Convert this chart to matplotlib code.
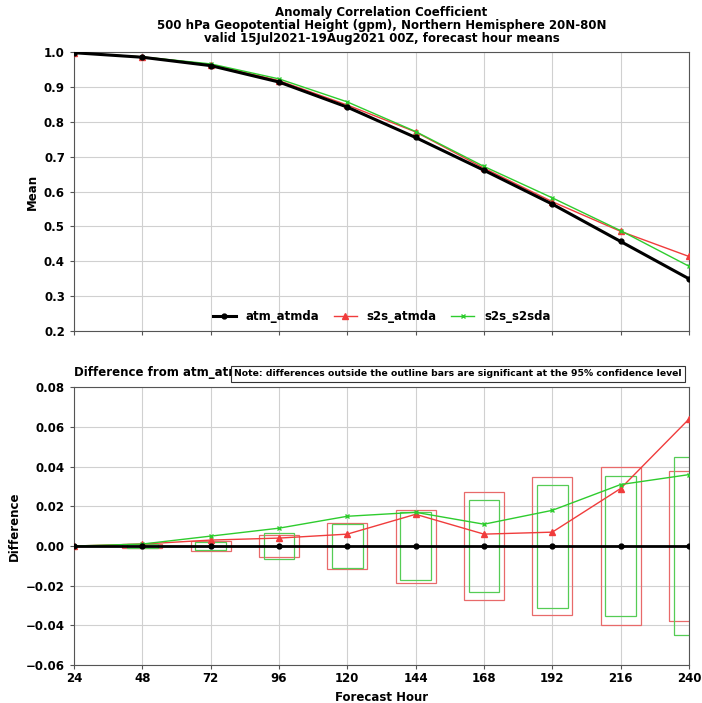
#!/usr/bin/env python3
"""Anomaly correlation coefficient: forecast hour means and differences from atm_atmda."""

import matplotlib

matplotlib.use("Agg")
import matplotlib.pyplot as plt
from matplotlib.patches import Rectangle
import numpy as np

# Forecast hours
hours = [24, 48, 72, 96, 120, 144, 168, 192, 216, 240]

# Mean ACC per experiment
atm_atmda = [0.998, 0.985, 0.961, 0.914, 0.842, 0.755, 0.661, 0.564, 0.457, 0.350]
s2s_atmda = [0.998, 0.986, 0.964, 0.918, 0.848, 0.771, 0.667, 0.571, 0.486, 0.414]
s2s_s2sda = [0.998, 0.986, 0.966, 0.923, 0.857, 0.772, 0.672, 0.582, 0.488, 0.386]

# Half-height of the 95% confidence outline bars
ci_s2s_atmda = [0.0, 0.001, 0.0027, 0.0055, 0.0116, 0.0184, 0.027, 0.0347, 0.040, 0.038]
ci_s2s_s2sda = [0.0, 0.001, 0.0022, 0.0065, 0.0113, 0.0170, 0.023, 0.031, 0.0355, 0.0447]

RED = "#f03c3c"
GREEN = "#2ecc2e"
BOX_RED = "#e86a6a"
BOX_GREEN = "#55cc55"


def style_axes(ax):
    ax.grid(True, color="#d0d0d0", linewidth=0.8)
    ax.set_xlim(24, 240)
    ax.set_xticks(hours)
    ax.tick_params(labelsize=8.5, length=3, color="#555555")
    for lab in ax.get_xticklabels() + ax.get_yticklabels():
        lab.set_fontweight("bold")
    for spine in ax.spines.values():
        spine.set_color("#555555")


def main():
    x = np.array(hours)
    base = np.array(atm_atmda)
    red = np.array(s2s_atmda)
    green = np.array(s2s_s2sda)

    fig = plt.figure(figsize=(7.02, 7.03), dpi=100)
    ax1 = fig.add_axes([0.1054, 0.529, 0.876, 0.397])
    ax2 = fig.add_axes([0.1054, 0.054, 0.876, 0.395])

    # top panel: means
    ax1.plot(x, base, color="black", lw=2.2, marker="o", ms=3.5, label="atm_atmda", zorder=4)
    ax1.plot(x, red, color=RED, lw=1.0, marker="^", ms=4, label="s2s_atmda", zorder=3)
    ax1.plot(x, green, color=GREEN, lw=1.0, marker="x", ms=3, label="s2s_s2sda", zorder=3)
    ax1.set_ylim(0.2, 1.0)
    ax1.set_yticks(np.arange(0.2, 1.01, 0.1))
    style_axes(ax1)
    ax1.tick_params(labelbottom=False)
    ax1.set_ylabel("Mean", fontsize=8.5, fontweight="bold")
    leg = ax1.legend(loc="lower center", ncol=3, frameon=False, fontsize=8.5,
                     handlelength=2.0, columnspacing=1.2, borderaxespad=0.3)
    for t in leg.get_texts():
        t.set_fontweight("bold")

    ax1.set_title(
        "Anomaly Correlation Coefficient\n"
        "500 hPa Geopotential Height (gpm), Northern Hemisphere 20N-80N\n"
        "valid 15Jul2021-19Aug2021 00Z, forecast hour means",
        fontsize=8.5, fontweight="bold", pad=7, linespacing=1.0,
    )

    # bottom panel: differences with outline bars
    for h, ci in zip(hours, ci_s2s_atmda):
        ax2.add_patch(Rectangle((h - 7, -ci), 14, 2 * ci, fill=False,
                                ec=BOX_RED, lw=0.9, zorder=2))
    for h, ci in zip(hours, ci_s2s_s2sda):
        ax2.add_patch(Rectangle((h - 5.4, -ci), 10.8, 2 * ci, fill=False,
                                ec=BOX_GREEN, lw=0.9, zorder=2))

    ax2.plot(x, base - base, color="black", lw=2.0, marker="o", ms=3.5, zorder=4)
    ax2.plot(x, red - base, color=RED, lw=1.0, marker="^", ms=4, zorder=3)
    ax2.plot(x, green - base, color=GREEN, lw=1.0, marker="x", ms=3, zorder=3)
    ax2.set_ylim(-0.06, 0.08)
    ax2.set_yticks(np.arange(-0.06, 0.081, 0.02))
    style_axes(ax2)
    ax2.tick_params(axis="x", pad=2)
    ax2.set_ylabel("Difference", fontsize=8.5, fontweight="bold")
    ax2.set_xlabel("Forecast Hour", fontsize=8.5, fontweight="bold", labelpad=4)

    ax2.text(0.0, 1.03, "Difference from atm_atmda", transform=ax2.transAxes,
             fontsize=8.5, fontweight="bold", va="bottom", ha="left")
    fig.text(0.334, 0.468,
             "Note: differences outside the outline bars are significant at the 95% confidence level",
             fontsize=6.7, fontweight="bold", va="center", ha="left",
             bbox=dict(boxstyle="square,pad=0.35", fc="white", ec="#333333", lw=0.8))

    fig.savefig("out.png", dpi=100)
    plt.close(fig)


if __name__ == "__main__":
    main()
